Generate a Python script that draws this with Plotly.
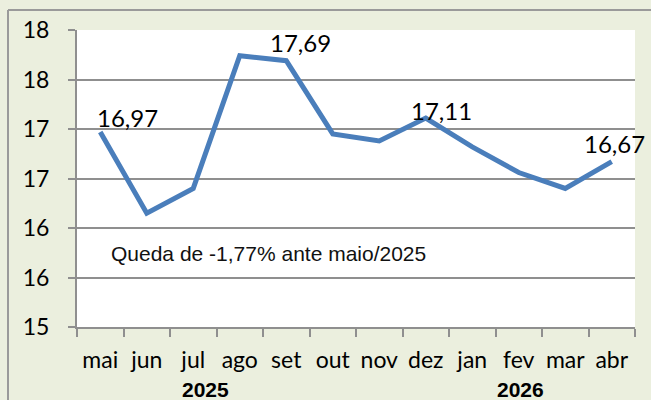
import plotly.graph_objects as go

# ---- data ----
months = ["mai", "jun", "jul", "ago", "set", "out", "nov", "dez", "jan", "fev", "mar", "abr"]
values = [16.97, 16.15, 16.40, 17.74, 17.69, 16.95, 16.88, 17.11, 16.82, 16.56, 16.40, 16.67]
y_tickvals = [15, 15.5, 16, 16.5, 17, 17.5, 18]
y_ticktext = ["15", "16", "16", "17", "17", "18", "18"]
labeled_points = [0, 4, 7, 11]
years = ["2025", "2026"]
year_positions = [2.26, 9.04]
note_text = "Queda de -1,77% ante maio/2025"

# ---- styles ----
BG = "#EBEFDE"
GRID = "#8F8F8F"
LINE = "#4A7EBB"
label_style = {  # index: (xanchor, xshift, yshift)
    0: ("left", -5, -2),
    4: ("center", 14, 2),
    7: ("center", 16, -9),
    11: ("center", 3, 2),
}

fig = go.Figure()
fig.add_trace(go.Scatter(
    x=months, y=values, mode="lines",
    line=dict(color=LINE, width=5),
    hoverinfo="skip", showlegend=False,
))

annotations = []
for i in labeled_points:
    xa, xs, ys = label_style[i]
    annotations.append(dict(
        x=months[i], y=values[i], xref="x", yref="y",
        text=f"{values[i]:.2f}".replace(".", ","),
        showarrow=False, xanchor=xa, yanchor="bottom",
        xshift=xs, yshift=ys,
        font=dict(family="Lato", size=24, color="#000000"),
    ))
for yr, pos in zip(years, year_positions):
    annotations.append(dict(
        x=pos, y=0, xref="x", yref="paper",
        text=f"<b>{yr}</b>", showarrow=False,
        xanchor="center", yanchor="middle", yshift=-62,
        font=dict(family="Liberation Sans, Arial", size=21, color="#000000"),
    ))
annotations.append(dict(
    x=0.058, y=0.249, xref="paper", yref="paper",
    text=note_text, showarrow=False, xanchor="left", yanchor="middle",
    font=dict(family="Liberation Sans, Arial", size=21, color="#111111"),
))

bx = (8 - 77) / 558
by = (327 - 10) / 297
shapes = [
    dict(type="line", xref="paper", yref="paper", x0=bx, x1=bx, y0=-0.5, y1=by,
         line=dict(color="#9A9A9A", width=2)),
    dict(type="line", xref="paper", yref="paper", x0=bx, x1=1.2, y0=by, y1=by,
         line=dict(color="#9A9A9A", width=2)),
]

fig.update_layout(
    width=651, height=400,
    margin=dict(l=77, r=16, t=30, b=73, autoexpand=False),
    paper_bgcolor=BG, plot_bgcolor="#FFFFFF",
    annotations=annotations, shapes=shapes,
    xaxis=dict(
        type="category", tickson="boundaries", ticks="outside", ticklen=8,
        tickwidth=2, tickcolor=GRID, showline=True, linecolor=GRID, linewidth=2,
        showgrid=False, tickangle=0, range=[-0.5, 11.5],
        tickfont=dict(family="Lato", size=23, color="#000000"),
        ticklabelstandoff=11, fixedrange=True,
    ),
    yaxis=dict(
        range=[15, 18], tickvals=y_tickvals, ticktext=y_ticktext,
        ticks="outside", ticklen=7, tickwidth=2, tickcolor=GRID,
        showline=True, linecolor=GRID, linewidth=2,
        showgrid=True, gridcolor=GRID, gridwidth=2, zeroline=False,
        tickfont=dict(family="Lato", size=23, color="#000000"),
        ticklabelstandoff=14, fixedrange=True,
    ),
)

fig.write_html("out.html", config={"displayModeBar": False},
               post_script="document.body.style.margin='0';")
